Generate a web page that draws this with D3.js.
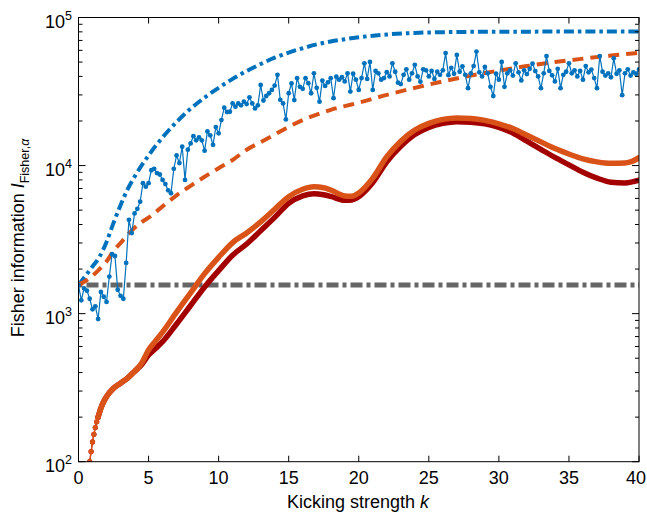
<!DOCTYPE html>
<html><head><meta charset="utf-8">
<script src="https://cdn.jsdelivr.net/npm/d3@7"></script>
<style>body{margin:0;background:#fff}svg{display:block}text{font-family:"Liberation Sans",Arial,Helvetica,sans-serif;fill:#000}</style>
</head><body><svg id="c" width="647" height="515"></svg>
<script>
// ---------- data ----------
const xTickVals = [0,5,10,15,20,25,30,35,40];
const yMajorVals = [100,1000,10000,100000];
const yMajorExp = ["2","3","4","5"];

// reference level (gray dash-dot)
const grayK = [0,40];
const grayV = [1560,1560];

// upper bound (blue dash-dot)
const boundK = [0,0.5,1,1.5,2,2.5,3,3.5,4,5,6,7,8,9,10,11,12,13,14,15,16,17,18,19,20,22,24,26,28,30,35,40];
const boundV = [1560,1800,2080,2420,3050,4100,5400,6900,8400,11700,15500,19700,24200,28800,33500,38500,43500,48500,53500,58000,62000,65800,68800,71300,73500,76800,78700,79600,80000,80200,80300,80300];

// orange dashed
const dashK = [0,0.5,1,1.5,2,2.5,3,3.5,4,4.5,5,6,7,8,9,10,11,12,13,14,15,16,17,18,19,20,22,24,26,28,30,32,34,36,38,40];
const dashV = [1560,1660,1800,2000,2250,2650,3000,3400,3800,4150,4450,5300,6300,7300,8400,9600,10900,12800,14400,16200,18300,20300,22100,23800,25200,26600,30000,33500,37000,40500,43800,47000,50000,52700,55300,57800];

// noisy blue data, k = 0, 0.2, ..., 40
const noisyStep = 0.2;
const noisyV = [
 1560,1230,1480,1430,1260,1070,1120,920,1400,1300,
 1200,1780,2520,2450,1450,1320,1260,2200,4300,3500,
 4750,5100,5700,7600,7200,7600,9300,9500,8900,8700,
 8000,7500,6800,6500,9500,11700,10400,13400,8000,12800,
 14100,15800,14800,15500,14800,12600,17000,16000,13800,18200,
 16500,20300,24600,23000,23100,26300,25000,26300,25500,27000,
 26000,28900,26300,24300,25500,35000,27500,29500,30800,32400,
 34700,41000,27800,26300,20500,30800,35900,27700,38900,34000,
 33000,38900,36000,30800,42000,33500,27000,37500,34500,36500,
 38900,28500,39800,38000,39500,37000,42000,31600,41700,38000,
 32400,39000,49000,38500,50100,32400,43600,42000,38000,39000,
 42700,40000,49000,43000,36300,35500,41000,44700,38000,42000,
 47900,40000,36800,44700,44000,40000,43600,38500,43000,41000,
 44000,57500,40800,45700,41700,55900,43000,46800,41000,33300,
 42000,47000,58900,42600,40000,46300,42000,34000,29500,41700,
 38000,50100,34000,42000,44000,40500,49000,42600,37600,44000,
 41500,45000,48800,43500,40000,33300,42000,54900,43600,40700,
 37000,45000,33300,41000,43000,49000,42000,44000,40000,43600,
 38000,47000,42600,44500,39000,33300,54900,43000,40500,42000,
 39500,53000,41700,44000,29900,42000,44700,40500,42600,41700,
 44600
];

// solid curves (orange and dark red)
const curveK = [0.8,0.9,1.0,1.1,1.2,1.3,1.4,1.6,1.8,2.0,2.5,3.0,3.5,4.0,4.5,5.0,5.5,6,7,8,9,10,11,12,13,14,15,16,16.8,17.5,18,19,19.5,20,21,22,23,24,25,26,27,28,29,30,31,32,33,34,35,36,37,38,39,39.5,40];
const orangeV = [100,117,136,153,170,186,200,230,255,275,313,339,367,407,462,569,653,750,1023,1380,1862,2399,3020,3508,4169,5070,6166,6918,7194,7079,6839,6237,6194,6531,8222,11482,14622,17378,19275,20512,20989,20797,20184,19143,17783,16032,14454,13032,11967,11092,10593,10351,10423,10666,11298];
const redV = [100,117,136,153,170,186,200,230,255,275,313,339,367,407,452,525,582,646,851,1135,1514,1950,2483,2951,3631,4467,5559,6237,6457,6353,6194,5821,5861,6166,7674,10617,13490,16218,18113,19275,19770,19634,19143,18113,16596,14622,12882,11350,10116,9016,8222,7727,7638,7762,7980];

// ---------- chart ----------
const m = {l:78.5, r:639, t:17.5, b:461.7};
const x = d3.scaleLinear().domain([0,40]).range([m.l, m.r]);
const y = d3.scaleLog().domain([100,1e5]).range([m.b, m.t]);
const svg = d3.select("#c");

svg.append("defs").append("clipPath").attr("id","clip")
  .append("rect").attr("x",m.l).attr("y",m.t).attr("width",m.r-m.l).attr("height",m.b-m.t);
const g = svg.append("g").attr("clip-path","url(#clip)");

const zip = (K,V) => K.map((k,i)=>[k,V[i]]);
const mk = curve => d3.line().x(d=>x(d[0])).y(d=>y(d[1])).curve(curve);

// gray reference
g.append("path").datum(zip(grayK,grayV)).attr("d",mk(d3.curveLinear))
  .attr("fill","none").attr("stroke","#666666").attr("stroke-width",5)
  .attr("stroke-dasharray","4,4,12,4");

// blue dash-dot bound
g.append("path").datum(zip(boundK,boundV)).attr("d",mk(d3.curveMonotoneX))
  .attr("fill","none").attr("stroke","#0072BD").attr("stroke-width",4)
  .attr("stroke-dasharray","10,4,3.5,4");

// orange dashed
g.append("path").datum(zip(dashK,dashV)).attr("d",mk(d3.curveMonotoneX))
  .attr("fill","none").attr("stroke","#D95319").attr("stroke-width",4)
  .attr("stroke-dasharray","11,7");

// noisy blue
const noisy = noisyV.map((v,i)=>[i*noisyStep, v]);
g.append("path").datum(noisy).attr("d",mk(d3.curveLinear))
  .attr("fill","none").attr("stroke","#0072BD").attr("stroke-width",1.2);
g.append("g").selectAll("circle").data(noisy).join("circle")
  .attr("cx",d=>x(d[0])).attr("cy",d=>y(d[1])).attr("r",2.4).attr("fill","#0072BD");

// solid curves
function solid(V, color){
  const pts = zip(curveK, V);
  g.append("path").datum(pts).attr("d",mk(d3.curveMonotoneX))
    .attr("fill","none").attr("stroke",color).attr("stroke-width",1.3);
  g.append("path").datum(pts.filter(d=>d[0]>=1.4)).attr("d",mk(d3.curveMonotoneX))
    .attr("fill","none").attr("stroke",color).attr("stroke-width",5.5).attr("stroke-linecap","round");
  g.append("g").selectAll("circle").data(pts.filter(d=>d[0]<1.45)).join("circle")
    .attr("cx",d=>x(d[0])).attr("cy",d=>y(d[1])).attr("r",2.6).attr("fill",color);
}
solid(redV, "#A30000");
solid(orangeV, "#D95319");

// ---------- axes ----------
const ax = svg.append("g").attr("stroke","#000").attr("stroke-width",1);
ax.append("rect").attr("x",m.l).attr("y",m.t).attr("width",m.r-m.l).attr("height",m.b-m.t).attr("fill","none");

xTickVals.forEach(v=>{
  const px = x(v);
  ax.append("line").attr("x1",px).attr("x2",px).attr("y1",m.b).attr("y2",m.b-6);
  ax.append("line").attr("x1",px).attr("x2",px).attr("y1",m.t).attr("y2",m.t+6);
  const t = svg.append("text").attr("x",px).attr("y",483.5).attr("text-anchor","middle")
    .attr("font-size",18).text(v);
  const w = t.node().getComputedTextLength();
  if (px + w/2 > 646) t.attr("x", 646 - w/2);
});

y.ticks().forEach(v=>{
  const py = y(v);
  const major = Math.abs(Math.log10(v) - Math.round(Math.log10(v))) < 1e-9;
  const len = major ? 7 : 4;
  ax.append("line").attr("x1",m.l).attr("x2",m.l+len).attr("y1",py).attr("y2",py);
  ax.append("line").attr("x1",m.r).attr("x2",m.r-len).attr("y1",py).attr("y2",py);
});

yMajorVals.forEach((v,i)=>{
  const t = svg.append("text").attr("x",72).attr("y",y(v)+10.5)
    .attr("text-anchor","end").attr("font-size",18);
  t.append("tspan").text("10");
  t.append("tspan").attr("font-size",12.5).attr("dy",-8).text(yMajorExp[i]);
});

// axis titles
const xl = svg.append("text").attr("x",358).attr("y",508).attr("text-anchor","middle").attr("font-size",18);
xl.append("tspan").text("Kicking strength ");
xl.append("tspan").attr("font-style","italic").text("k");

const yl = svg.append("text").attr("transform","translate(24,238) rotate(-90)")
  .attr("text-anchor","middle").attr("font-size",18);
yl.append("tspan").text("Fisher information ");
yl.append("tspan").attr("font-style","italic").text("I");
yl.append("tspan").attr("font-size",12.5).attr("dy",5).text("Fisher,");
yl.append("tspan").attr("font-size",12.5).attr("font-style","italic").text("α");
</script>
</body></html>
